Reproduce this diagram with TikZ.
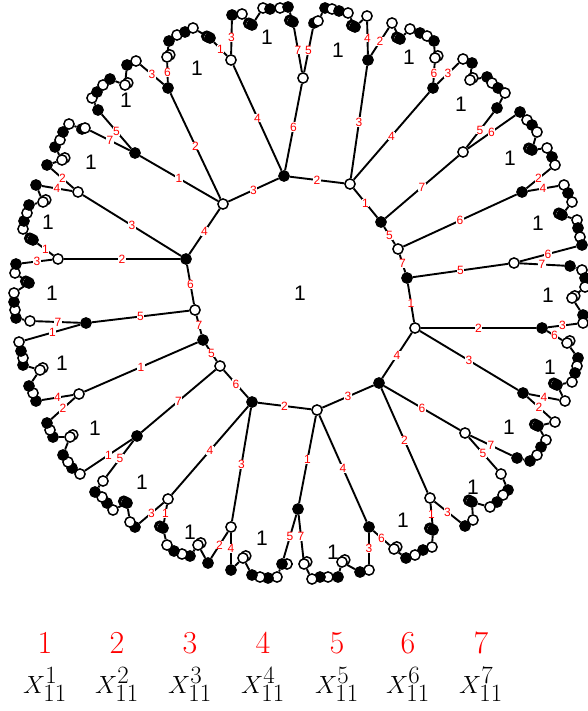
\documentclass[tikz,border=0pt]{standalone}
\usepackage{fontspec}
\newfontfamily\lsans{Liberation Sans}
\usetikzlibrary{backgrounds}
\tikzset{
 vB/.style={circle, draw=black, fill=black, line width=1.5pt, minimum size=10.2pt, inner sep=0pt},
 vW/.style={vB, fill=white},
 kB/.style={vB, preaction={draw=black, fill=black, line width=1.5pt, transform canvas={shift={(-3.2pt,1.7pt)}}}, preaction={draw=black, fill=white, line width=1.5pt, transform canvas={shift={(-1.6pt,0.85pt)}}}},
 kW/.style={vW, preaction={draw=black, fill=white, line width=1.5pt, transform canvas={shift={(2.8pt,2.1pt)}}}},
 ln/.style={line width=1.9pt},
 lab/.style={font=\lsans\fontsize{12}{12}\selectfont, text=red, fill=white, inner sep=0.3pt},
 face/.style={font=\lsans\fontsize{21}{21}\selectfont, inner sep=0pt},
 legd/.style={font=\fontsize{32}{36}\selectfont, text=red, anchor=base, inner sep=0pt},
 legx/.style={font=\fontsize{33}{36}\selectfont, anchor=base, inner sep=0pt},
}
\newcommand\fchain[2]{%
 \foreach \ty/\x/\y [count=\kk] in {#2} {%
   \node[\ty] (f#1-\kk) at (\x,\y) {};
   \ifnum\kk>1
     \pgfmathtruncatemacro\jj{\kk-1}
     \begin{pgfonlayer}{background}\draw[ln] (f#1-\jj) -- (f#1-\kk);\end{pgfonlayer}
   \fi
 }}
\begin{document}
\begin{tikzpicture}[x=1pt,y=-1pt]
\useasboundingbox (0,0) rectangle (587,711);
% inner cycle
\node[vB] (A) at (284,176) {};
\node[vW] (B) at (350,184) {};
\node[vB] (C) at (381,222) {};
\node[vW] (D) at (398,249) {};
\node[vB] (E) at (407,278) {};
\node[vW] (F) at (415,328) {};
\node[vB] (G) at (379,383) {};
\node[vW] (H) at (317,410) {};
\node[vB] (I) at (252,402) {};
\node[vW] (J) at (220,366) {};
\node[vB] (K) at (203,340) {};
\node[vW] (L) at (195,310) {};
\node[vB] (M) at (186,259) {};
\node[vW] (N) at (223,204) {};
% second level
\node[vW] (P1) at (231,60) {};
\node[vW] (P2) at (303,78) {};
\node[vB] (P3) at (368,60) {};
\node[vB] (P4) at (433,88) {};
\node[vW] (P5) at (463,152) {};
\node[vB] (P6) at (522,192) {};
\node[vW] (P7) at (514,263) {};
\node[vB] (P8) at (542,328) {};
\node[vB] (P9) at (523,393) {};
\node[vW] (P10) at (465,433) {};
\node[vW] (P11) at (430,498) {};
\node[vB] (P12) at (369,527) {};
\node[vB] (P13) at (298,509) {};
\node[vW] (P14) at (231,527) {};
\node[vW] (P15) at (168,499) {};
\node[vB] (P16) at (137,436) {};
\node[vW] (P17) at (79,394) {};
\node[vB] (P18) at (86,323) {};
\node[vW] (P19) at (58,259) {};
\node[vW] (P20) at (78,192) {};
\node[vB] (P21) at (135,153) {};
\node[vB] (P22) at (168,88) {};
% outer fringe
\fchain{1}{kW/167/57, vB/169/41, vW/177/35, vB/185/32, vW/193/28, kB/210/38}
\fchain{2}{vB/232/15, vW/242/14, kB/252/25, vW/263/8, vB/270/9, vW/280/8, vB/288/7, kB/293/22}
\fchain{3}{vB/314/23, vW/318/21, vB/325/8, vW/332/9, vB/339/11, vW/348/13, kB/355/27, vW/367/16}
\fchain{4}{vW/392/23, kB/400/39, vW/410/29, vB/420/33, vW/427/36, vB/434/41, kW/435/58}
\fchain{5}{vW/463/59, vB/472/63, kW/470/80, vB/487/77, vW/492/83, vB/498/88, vW/505/93, vB/497/108}
\fchain{6}{vB/520/112, vW/527/120, vB/532/125, vW/537/132, kB/532/150, vW/547/148, vB/552/157, vW/555/165}
\fchain{7}{vW/564/185, vB/568/193, vW/572/202, kB/562/215, vW/577/220, vB/578/228, vW/580/237, vB/582/245}
\fchain{8}{vB/570/266, vW/582/270, vB/585/278, vW/585/287, kW/572/298, vB/583/315, vW/583/323}
\fchain{9}{kW/567/343, vB/578/358, vW/577/366, vB/575/373, vW/572/382, kB/557/385, vW/565/401}
\fchain{10}{vW/555/422, kB/538/426, vW/546/440, vB/541/447, vW/537/455, vB/530/461, vB/517/458}
\fchain{11}{vW/501/474, vB/508/490, vW/503/495, vB/497/502, vW/490/507, kB/472/502, vW/473/520, vB/465/526}
\fchain{12}{kB/433/530, vW/432/547, vB/423/550, vW/415/555, vB/406/558, kW/394/549}
\fchain{13}{vW/369/570, vB/360/572, kW/342/562, vB/338/577, vW/328/577, vB/320/577, vW/312/579, kW/304/564}
\fchain{14}{vW/287/564, vB/282/564, vW/277/577, vB/268/578, vW/260/577, vB/252/575, kW/243/558, vB/231/570}
\fchain{15}{vB/208/563, kW/198/545, vB/190/556, vW/182/554, vB/174/551, vW/167/545, kB/163/528}
\fchain{16}{vB/135/527, vW/130/522, kB/127/503, vW/113/510, vB/107/503, vW/102/497, vB/95/492, vW/103/481}
\fchain{17}{vW/80/474, vB/72/468, vW/68/462, vB/63/455, kW/70/437, vB/53/437, vW/50/430, vB/47/423}
\fchain{18}{vB/36/401, vW/33/393, vB/29/386, kW/40/370, vB/23/365, vW/23/358, vB/21/351, vW/19/342}
\fchain{19}{vW/30/321, vB/16/318, vW/15/310, vB/14/302, vW/14/293, kB/29/283, vW/15/273, vB/16/264}
\fchain{20}{kB/33/240, vW/23/229, vB/24/221, vW/27/213, vB/29/205, kW/43/202, vB/36/185}
\fchain{21}{vB/47/165, kW/62/160, vB/55/147, vW/60/140, vB/63/132, vW/69/124, vB/82/129, vW/85/128}
\fchain{22}{vB/98/110, vW/92/98, vB/97/92, vW/103/85, vB/110/79, kW/125/85, vB/127/65, vW/136/61}
% edges
\begin{pgfonlayer}{background}
\foreach \nA/\nB/\nL in {A/B/2, B/C/1, C/D/5, D/E/7, E/F/1, F/G/4, G/H/3, H/I/2, I/J/6, J/K/5, K/L/7, L/M/6, M/N/4, N/A/3,
  A/P1/4, A/P2/6, B/P3/3, B/P4/4, C/P5/7, D/P6/6, E/P7/5, F/P8/2, F/P9/3, G/P10/6, G/P11/2, H/P12/4, H/P13/1,
  I/P14/3, I/P15/4, J/P16/7, K/P17/1, L/P18/5, M/P19/2, M/P20/3, N/P21/1, N/P22/2,
  P1/f2-1/3, P1/f1-6/1, P2/f2-8/7, P2/f3-1/5, P3/f3-8/4, P3/f4-1/2, P4/f4-7/6, P4/f5-1/3,
  P5/f5-8/5, P5/f6-1/6, P6/f6-8/2, P6/f7-1/4, P7/f7-8/6, P7/f8-1/7, P8/f8-7/3, P8/f9-1/6,
  P9/f9-7/4, P9/f10-1/2, P10/f10-7/7, P10/f11-1/5, P11/f11-8/3, P11/f12-1/1, P12/f12-6/6, P12/f13-1/3,
  P13/f13-8/7, P13/f14-2/5, P14/f14-8/4, P14/f15-1/2, P15/f15-7/1, P15/f16-1/3, P16/f16-8/5, P16/f17-1/1,
  P17/f17-8/2, P17/f18-1/4, P18/f18-8/1, P18/f19-1/7, P19/f19-8/3, P19/f20-1/1, P20/f20-7/4, P20/f21-1/2,
  P21/f21-8/7, P21/f22-1/5, P22/f22-8/3, P22/f1-1/6}
  \draw[ln] (\nA) -- node[lab] {\nL} (\nB);
\end{pgfonlayer}
% face labels
\node[face] (t0) at (300,293) {1};
\foreach \xx/\yy [count=\kk] in {197/68, 267/37, 338/50, 409/57, 461/104, 510/158, 538/223, 548/295, 550/367, 509/427, 473/487, 403/520, 333/552, 262/538, 190/532, 142/482, 95/428, 62/363, 52/293, 48/222, 91/162, 126/100}
  \node[face] (t\kk) at (\xx,\yy) {1};
% legend
\foreach \i/\xx in {1/45, 2/117, 3/190, 4/263, 5/337, 6/408, 7/481} {
  \node[legd] (d\i) at (\xx,653) {\i};
  \node[legx] (x\i) at (\xx,693) {$X^{\i}_{11}$};
}
\end{tikzpicture}
\end{document}
